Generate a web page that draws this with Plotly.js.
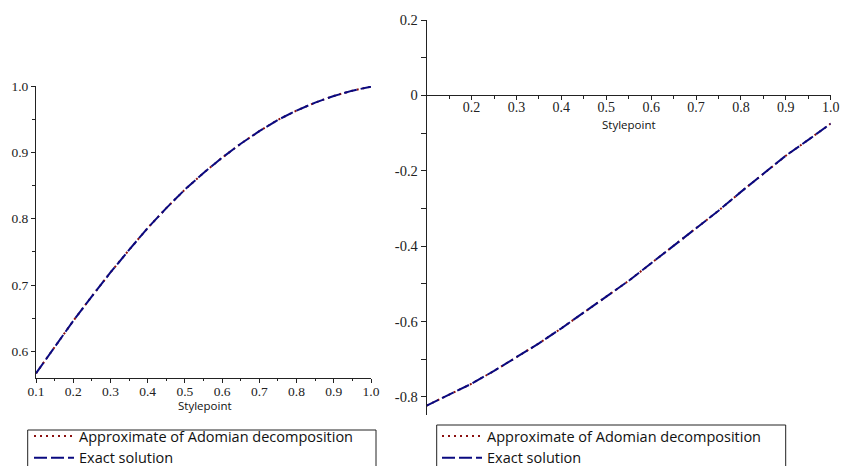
<!DOCTYPE html>
<html>
<head>
<meta charset="utf-8">
<script src="https://cdn.plot.ly/plotly-3.0.1.min.js"></script>
<style>html,body{margin:0;padding:0;background:#fff;}#chart{width:842px;height:466px;}</style>
</head>
<body>
<div id="chart"></div>
<script>
// ---- data ----
var stylepoint = [0.1, 0.15, 0.2, 0.25, 0.3, 0.35, 0.4, 0.45, 0.5, 0.55, 0.6, 0.65, 0.7, 0.75, 0.8, 0.85, 0.9, 0.95, 1.0];

// left panel
var leftApprox = [0.567, 0.607, 0.646, 0.683, 0.719, 0.753, 0.786, 0.816, 0.844, 0.869, 0.892, 0.913, 0.932, 0.949, 0.963, 0.975, 0.985, 0.993, 0.999];
var leftExact  = [0.567, 0.607, 0.646, 0.683, 0.719, 0.753, 0.786, 0.816, 0.844, 0.869, 0.892, 0.913, 0.932, 0.949, 0.963, 0.975, 0.985, 0.993, 0.999];

// right panel
var rightApprox = [-0.823, -0.795, -0.765, -0.731, -0.695, -0.658, -0.618, -0.577, -0.534, -0.492, -0.446, -0.400, -0.353, -0.306, -0.256, -0.208, -0.160, -0.118, -0.075];
var rightExact  = [-0.823, -0.795, -0.765, -0.731, -0.695, -0.658, -0.618, -0.577, -0.534, -0.492, -0.446, -0.400, -0.353, -0.306, -0.256, -0.208, -0.160, -0.118, -0.075];

var seriesNames = ["Approximate of Adomian decomposition", "Exact solution"];
var xTitle = "Stylepoint";

var rightYTickVals = [0.2, 0, -0.2, -0.4, -0.6, -0.8];
var rightYTickText = ["0.2", "0", "-0.2", "-0.4", "-0.6", "-0.8"];
var rightXTickVals = [0.1, 0.2, 0.3, 0.4, 0.5, 0.6, 0.7, 0.8, 0.9, 1.0];
var rightXTickText = ["", "0.2", "0.3", "0.4", "0.5", "0.6", "0.7", "0.8", "0.9", "1.0"];

// ---- layout helpers ----
var W = 842, H = 466;
function fx(px) { return px / W; }
function fy(py) { return (H - py) / H; }

var approxLine = {color: "#8b1010", width: 2, dash: "2px,4px"};
var exactLine  = {color: "#0a0a80", width: 2, dash: "13px,4px"};

var traces = [
  {x: stylepoint, y: leftApprox, type: "scatter", mode: "lines", name: seriesNames[0], line: approxLine, xaxis: "x", yaxis: "y", legend: "legend"},
  {x: stylepoint, y: leftExact, type: "scatter", mode: "lines", name: seriesNames[1], line: exactLine, xaxis: "x", yaxis: "y", legend: "legend"},
  {x: stylepoint, y: rightApprox, type: "scatter", mode: "lines", name: seriesNames[0], line: approxLine, xaxis: "x2", yaxis: "y2", legend: "legend2"},
  {x: stylepoint, y: rightExact, type: "scatter", mode: "lines", name: seriesNames[1], line: exactLine, xaxis: "x2", yaxis: "y2", legend: "legend2"}
];

var serif = "Liberation Serif";
var sans = "Open Sans";
var axisColor = "#222";

var y2Range = [-0.848, 0.2];
var y2Domain = [fy(415), fy(20)];
var x2Pos = y2Domain[0] + (0 - y2Range[0]) / (y2Range[1] - y2Range[0]) * (y2Domain[1] - y2Domain[0]);

var legendCommon = {
  orientation: "v", xanchor: "left", yanchor: "top",
  xref: "container", yref: "container",
  bgcolor: "rgba(0,0,0,0)", borderwidth: 0,
  font: {family: sans, size: 14.5, color: "#111"},
  itemwidth: 40, tracegroupgap: 0
};

var layout = {
  width: W, height: H,
  margin: {l: 0, r: 0, t: 0, b: 0, autoexpand: false},
  paper_bgcolor: "#fff", plot_bgcolor: "#fff",
  showlegend: true,
  xaxis: {
    domain: [fx(36), fx(371)], range: [0.1, 1.0], anchor: "y",
    showgrid: false, zeroline: false, showline: true, linecolor: axisColor, linewidth: 1,
    ticks: "outside", ticklen: 4, tickcolor: axisColor, tick0: 0, dtick: 0.1, tickformat: ".1f",
    ticklabelstandoff: -3,
    minor: {dtick: 0.05, ticks: "outside", ticklen: 2, tickcolor: axisColor},
    tickfont: {family: serif, size: 13.5, color: "#222"}
  },
  yaxis: {
    domain: [fy(378), fy(86)], range: [0.56, 1.0], anchor: "x",
    showgrid: false, zeroline: false, showline: true, linecolor: axisColor, linewidth: 1,
    ticks: "outside", ticklen: 4, tickcolor: axisColor, tick0: 0, dtick: 0.1, tickformat: ".1f",
    minor: {dtick: 0.05, ticks: "outside", ticklen: 3, tickcolor: axisColor},
    tickfont: {family: serif, size: 13.5, color: "#222"}
  },
  xaxis2: {
    domain: [fx(426.7), fx(830.7)], range: [0.1, 1.0], anchor: "free", position: x2Pos,
    showgrid: false, zeroline: false, showline: true, linecolor: axisColor, linewidth: 1,
    ticks: "outside", ticklen: 4, tickcolor: axisColor,
    tickmode: "array", tickvals: rightXTickVals, ticktext: rightXTickText,
    ticklabelstandoff: -5,
    minor: {tickmode: "linear", tick0: 0, dtick: 0.05, ticks: "outside", ticklen: 3, tickcolor: axisColor},
    tickfont: {family: serif, size: 14, color: "#222"}
  },
  yaxis2: {
    domain: y2Domain, range: y2Range, anchor: "x2",
    showgrid: false, zeroline: false, showline: true, linecolor: axisColor, linewidth: 1,
    ticks: "outside", ticklen: 5, tickcolor: axisColor,
    tickmode: "array", tickvals: rightYTickVals, ticktext: rightYTickText,
    minor: {tickmode: "linear", tick0: 0, dtick: 0.1, ticks: "outside", ticklen: 5, tickcolor: axisColor},
    tickfont: {family: serif, size: 14.5, color: "#222"}
  },
  legend: Object.assign({}, legendCommon, {x: fx(29), y: fy(420)}),
  legend2: Object.assign({}, legendCommon, {x: fx(437), y: fy(420)}),
  annotations: [
    {text: xTitle, xref: "paper", yref: "paper", x: fx(205), y: fy(405), xanchor: "center", yanchor: "middle", showarrow: false, font: {family: sans, size: 11.5, color: "#111"}},
    {text: xTitle, xref: "paper", yref: "paper", x: fx(629), y: fy(124), xanchor: "center", yanchor: "middle", showarrow: false, font: {family: sans, size: 11.5, color: "#111"}}
  ],
  shapes: [
    {type: "rect", xref: "paper", yref: "paper", x0: fx(27.7), x1: fx(376), y0: -0.2, y1: fy(430), line: {color: "#222", width: 1}},
    {type: "rect", xref: "paper", yref: "paper", x0: fx(436.7), x1: fx(785.7), y0: -0.2, y1: fy(425), line: {color: "#222", width: 1}}
  ]
};

Plotly.newPlot("chart", traces, layout, {staticPlot: true, displayModeBar: false});
</script>
</body>
</html>
